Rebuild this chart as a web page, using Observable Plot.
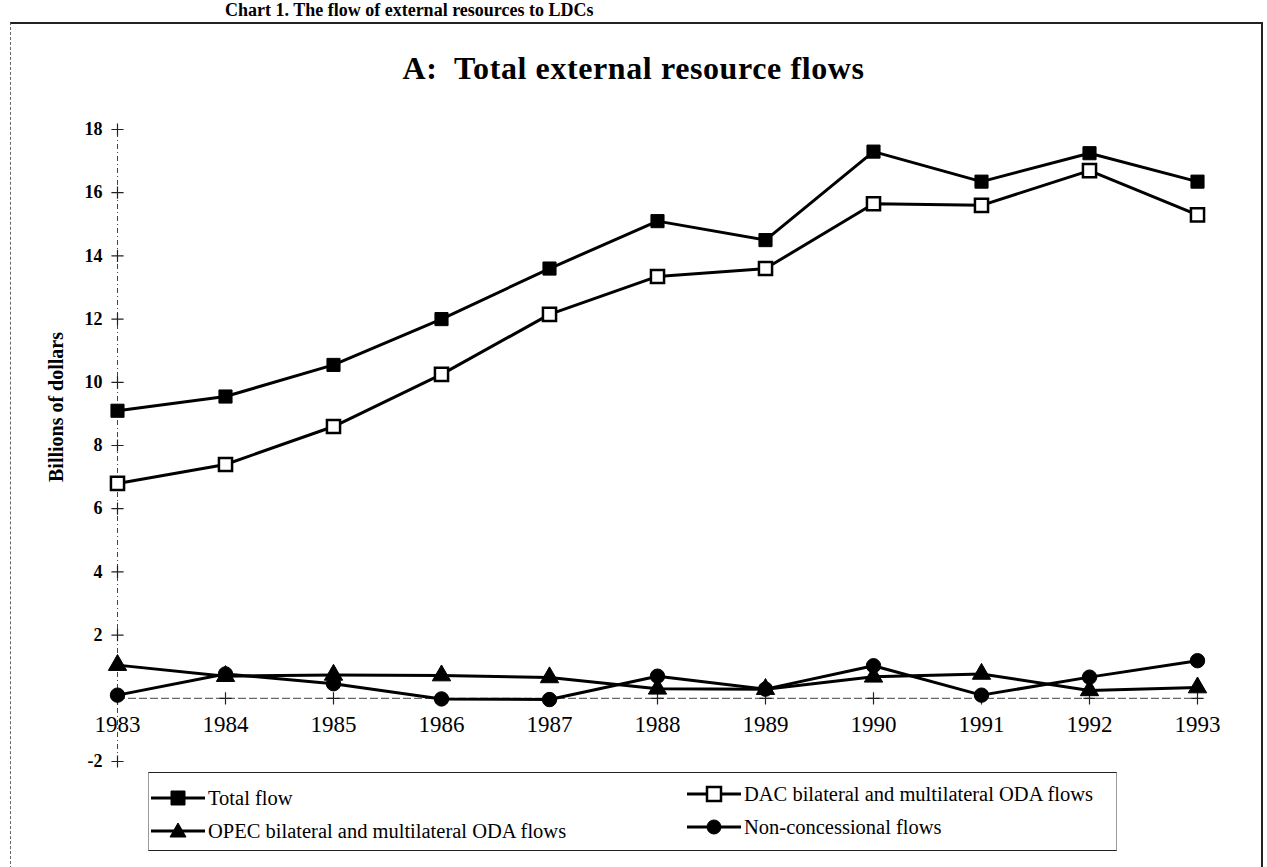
<!DOCTYPE html>
<html><head><meta charset="utf-8">
<script src="https://cdn.jsdelivr.net/npm/d3@7"></script>
<script src="https://cdn.jsdelivr.net/npm/@observablehq/plot@0.6"></script>
<style>
body{margin:0;background:#fff;width:1267px;height:867px;overflow:hidden;position:relative;font-family:"Liberation Serif","DejaVu Serif",serif;color:#000}
#chart{position:absolute;left:0;top:0}
.frame{position:absolute;left:10px;top:22px;width:1250px;height:870px;border-top:2px solid #222;border-right:2px solid #222;border-left:1px dashed #666}
.heading{position:absolute;top:1px;left:225px;font-weight:bold;font-size:18px;line-height:19px;white-space:nowrap}
.title{position:absolute;top:50px;left:0;width:1267px;text-align:center;font-weight:bold;font-size:32px;letter-spacing:0.6px}
.ylabel{position:absolute;left:56px;top:407px;transform:translate(-50%,-50%) rotate(-90deg);font-weight:bold;font-size:20px;white-space:nowrap}
.legend{position:absolute;left:148px;top:772px;width:967px;height:77px;border-top:1.5px solid #222;border-bottom:1.5px solid #222;border-left:1px solid #999;border-right:1px solid #999}
.item{position:absolute;display:flex;align-items:center;font-size:20.5px;white-space:nowrap;height:24px}
.item svg{margin-right:3px}
</style></head><body>
<div class="frame"></div>
<div class="heading">Chart 1.  The flow of external resources to LDCs</div>
<div class="title">A:&nbsp; Total external resource flows</div>
<div id="chart"></div>
<div class="ylabel">Billions of dollars</div>
<div class="legend"></div>
<script>
const years = [1983, 1984, 1985, 1986, 1987, 1988, 1989, 1990, 1991, 1992, 1993];
const totalFlow = [9.1, 9.55, 10.55, 12.0, 13.6, 15.1, 14.5, 17.3, 16.35, 17.25, 16.35];
const dacFlows = [6.8, 7.4, 8.6, 10.25, 12.15, 13.35, 13.6, 15.65, 15.6, 16.7, 15.3];
const opecFlows = [1.05, 0.7, 0.74, 0.72, 0.66, 0.3, 0.29, 0.68, 0.77, 0.25, 0.34];
const nonConcessional = [0.1, 0.77, 0.46, -0.02, -0.04, 0.7, 0.29, 1.03, 0.1, 0.67, 1.19];
const seriesNames = ["Total flow", "DAC bilateral and multilateral ODA flows", "OPEC bilateral and multilateral ODA flows", "Non-concessional flows"];
const seriesSymbols = ["square", "square", "triangle", "circle"];
const seriesFills = ["#000", "#fff", "#000", "#000"];
const yTicks = [-2, 2, 4, 6, 8, 10, 12, 14, 16, 18];

const seriesValues = [totalFlow, dacFlows, opecFlows, nonConcessional];
const rows = [];
seriesValues.forEach((arr, k) => arr.forEach((v, i) => rows.push({series: seriesNames[k], k, year: years[i], value: v})));

const rSym = {square: 7.4, triangle: 6.8, circle: 7.2};

const chart = Plot.plot({
  width: 1267,
  height: 867,
  marginLeft: 117,
  marginRight: 70,
  marginTop: 129,
  marginBottom: 106,
  style: {background: "transparent", fontFamily: "'Liberation Serif', serif", overflow: "visible"},
  x: {domain: [years[0], years[years.length - 1]], axis: null},
  y: {domain: [d3.min(yTicks), d3.max(yTicks)], axis: null},
  marks: [
    Plot.ruleX([years[0]], {y1: d3.min(yTicks), y2: d3.max(yTicks), stroke: "#444", strokeWidth: 1, strokeDasharray: "5,3,1,3"}),
    Plot.ruleY([0], {x1: years[0], x2: years[years.length - 1], stroke: "#444", strokeWidth: 1, strokeDasharray: "8,3"}),
    Plot.dot(yTicks, {x: () => years[0], y: d => d, symbol: "plus", r: 4, stroke: "#222", strokeWidth: 1.2}),
    Plot.dot(years, {x: d => d, y: () => 0, symbol: "plus", r: 4, stroke: "#222", strokeWidth: 1.2}),
    Plot.text(yTicks, {x: () => years[0], y: d => d, text: d => String(d), dx: -15, textAnchor: "end", fontSize: 18, fontWeight: "bold", fill: "#000"}),
    Plot.text(years, {x: d => d, y: () => 0, text: d => String(d), dy: 26, fontSize: 23, fill: "#000"}),
    Plot.line(rows, {x: "year", y: "value", z: "series", stroke: "#000", strokeWidth: 3}),
    ...seriesNames.map((name, k) => Plot.dot(rows.filter(d => d.k === k), {
      x: "year", y: "value", symbol: seriesSymbols[k], r: rSym[seriesSymbols[k]],
      fill: seriesFills[k], stroke: "#000", strokeWidth: k === 1 ? 2.5 : 1
    }))
  ]
});
document.getElementById("chart").appendChild(chart);

// Legend
const legend = document.querySelector(".legend");
const legendPos = [[2, 13], [538, 9], [2, 46], [538, 42]];
const symPath = {
  square: "M-7,-7h14v14h-14z",
  triangle: "M0,-8L8,6H-8z",
  circle: "M7,0A7,7 0 1 1 -7,0A7,7 0 1 1 7,0z"
};
seriesNames.forEach((name, k) => {
  const div = document.createElement("div");
  div.className = "item";
  div.style.left = legendPos[k][0] + "px";
  div.style.top = legendPos[k][1] + "px";
  const ns = "http://www.w3.org/2000/svg";
  const svg = document.createElementNS(ns, "svg");
  svg.setAttribute("width", 54); svg.setAttribute("height", 20);
  const line = document.createElementNS(ns, "line");
  line.setAttribute("x1", 0); line.setAttribute("x2", 54); line.setAttribute("y1", 10); line.setAttribute("y2", 10);
  line.setAttribute("stroke", "#000"); line.setAttribute("stroke-width", 3);
  svg.appendChild(line);
  const p = document.createElementNS(ns, "path");
  p.setAttribute("d", symPath[seriesSymbols[k]]);
  p.setAttribute("transform", "translate(27,10)");
  p.setAttribute("fill", seriesFills[k]); p.setAttribute("stroke", "#000"); p.setAttribute("stroke-width", k === 1 ? 2.5 : 1);
  svg.appendChild(p);
  div.appendChild(svg);
  const span = document.createElement("span");
  span.textContent = name;
  div.appendChild(span);
  legend.appendChild(div);
});
</script>
</body></html>
